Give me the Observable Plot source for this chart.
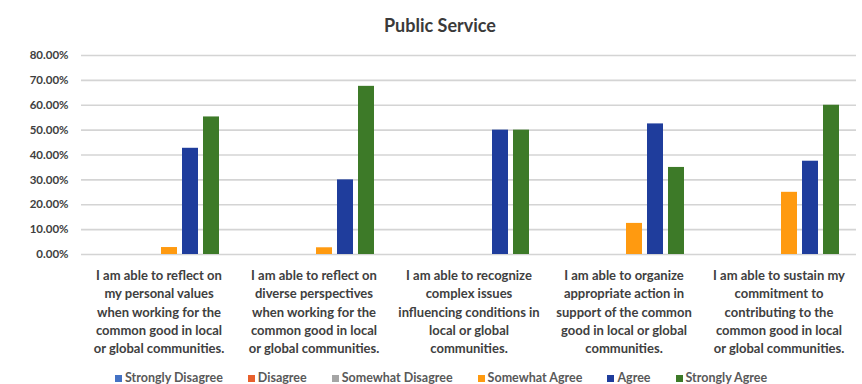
<!DOCTYPE html>
<html>
<head>
<meta charset="utf-8">
<script src="https://cdn.jsdelivr.net/npm/d3@7"></script>
<script src="https://cdn.jsdelivr.net/npm/@observablehq/plot@0.6"></script>
<style>
  body { margin: 0; background: #fff; font-family: Lato, "Open Sans", sans-serif; }
  #wrap { width: 862px; }
  #title { height: 42px; line-height: 50px; text-align: center; font-weight: bold; font-size: 18px; color: #3a3a3a; padding-left: 18px; box-sizing: border-box; }
  #legend { display: flex; gap: 25px; justify-content: flex-start; padding-left: 115px; margin-top: 4px; font-size: 12.5px; font-weight: bold; color: #595959; height: 22px; align-items: center; }
  #legend span.sw { display: inline-block; width: 7px; height: 7px; margin-right: 3px; vertical-align: 0px; }
</style>
</head>
<body>
<div id="wrap">
  <div id="title">Public Service</div>
  <div id="chart"></div>
  <div id="legend"></div>
</div>
<script>
const categories = [
  "I am able to reflect on my personal values when working for the common good in local or global communities.",
  "I am able to reflect on diverse perspectives when working for the common good in local or global communities.",
  "I am able to recognize complex issues influencing conditions in local or global communities.",
  "I am able to organize appropriate action in support of the common good in local or global communities.",
  "I am able to sustain my commitment to contributing to the common good in local or global communities."
];
const tickLabels = [
  "I am able to reflect on\nmy personal values\nwhen working for the\ncommon good in local\nor global communities.",
  "I am able to reflect on\ndiverse perspectives\nwhen working for the\ncommon good in local\nor global communities.",
  "I am able to recognize\ncomplex issues\ninfluencing conditions in\nlocal or global\ncommunities.",
  "I am able to organize\nappropriate action in\nsupport of the common\ngood in local or global\ncommunities.",
  "I am able to sustain my\ncommitment to\ncontributing to the\ncommon good in local\nor global communities."
];
const seriesNames = ["Strongly Disagree", "Disagree", "Somewhat Disagree", "Somewhat Agree", "Agree", "Strongly Agree"];
const seriesColors = ["#4472C4", "#E8602C", "#A5A5A5", "#FF9A10", "#1F3D9C", "#3D7A28"];
const stronglyDisagree = [0, 0, 0, 0, 0];
const disagree = [0, 0, 0, 0, 0];
const somewhatDisagree = [0, 0, 0, 0, 0];
const somewhatAgree = [0.028, 0.027, 0, 0.125, 0.25];
const agree = [0.427, 0.30, 0.50, 0.525, 0.375];
const stronglyAgree = [0.553, 0.676, 0.50, 0.35, 0.60];
const yTicks = [0, 0.1, 0.2, 0.3, 0.4, 0.5, 0.6, 0.7, 0.8];

const seriesValues = [stronglyDisagree, disagree, somewhatDisagree, somewhatAgree, agree, stronglyAgree];
const rows = [];
categories.forEach((c, i) => {
  seriesNames.forEach((s, j) => rows.push({category: c, series: s, value: seriesValues[j][i]}));
});

const font = "Lato, 'Open Sans', sans-serif";
const chart = Plot.plot({
  width: 862,
  height: 320,
  marginLeft: 80,
  marginRight: 6,
  marginTop: 13,
  marginBottom: 108,
  style: {fontFamily: font, fontWeight: "bold", color: "#404040", background: "#fff"},
  fx: {domain: categories, paddingInner: 0, paddingOuter: 0, label: null},
  x: {domain: seriesNames, paddingInner: 0.24, paddingOuter: 0.8, axis: null},
  y: {domain: [0, 0.8], label: null},
  color: {domain: seriesNames, range: seriesColors},
  marks: [
    Plot.gridY(yTicks, {stroke: "#d4d4d4", strokeOpacity: 1, strokeWidth: 1.6}),
    Plot.axisY({ticks: yTicks, tickFormat: d => (d * 100).toFixed(2) + "%", tickSize: 0, tickPadding: 13, fontSize: 11.5, fill: "#404040", label: null}),
    Plot.barY(rows, {fx: "category", x: "series", y: "value", fill: "series"}),
    Plot.axisFx({anchor: "bottom", tickFormat: d => tickLabels[categories.indexOf(d)], tickSize: 0, tickPadding: 12, fontSize: 13, lineHeight: 1.42, fill: "#404040", label: null})
  ]
});
document.getElementById("chart").appendChild(chart);

const legend = document.getElementById("legend");
seriesNames.forEach((s, j) => {
  const item = document.createElement("div");
  item.innerHTML = `<span class="sw" style="background:${seriesColors[j]}"></span>${s}`;
  legend.appendChild(item);
});
</script>
</body>
</html>
